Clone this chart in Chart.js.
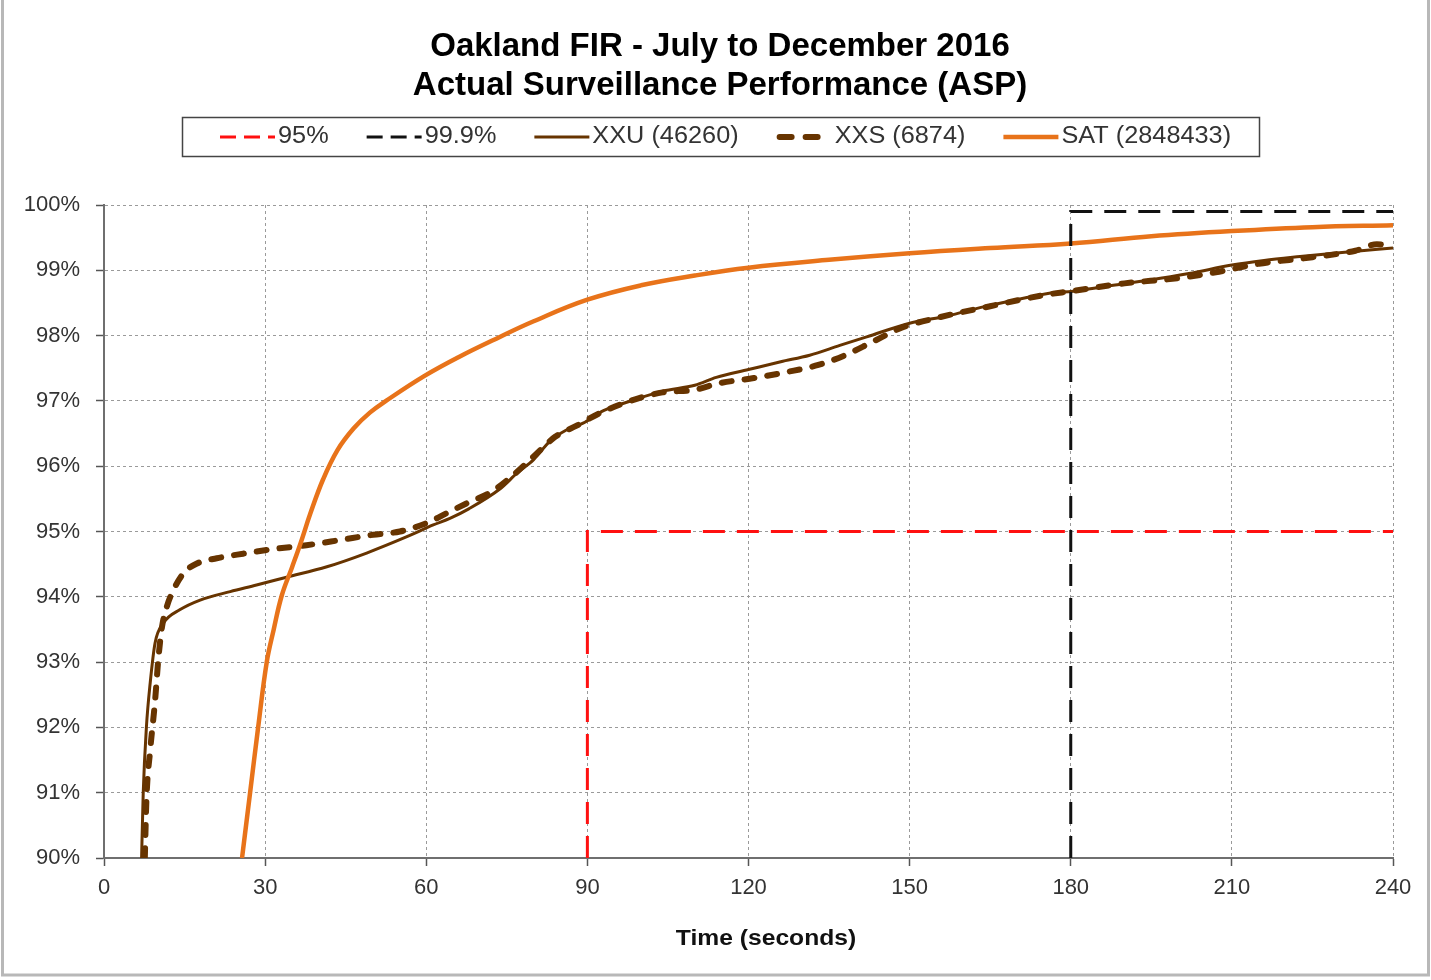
<!DOCTYPE html>
<html>
<head>
<meta charset="utf-8">
<script src="https://cdn.jsdelivr.net/npm/chart.js@4/dist/chart.umd.min.js"></script>
<style>
  html, body { margin: 0; padding: 0; background: #fff; }
  #wrap { width: 1431px; height: 980px; position: relative; }
</style>
</head>
<body>
<div id="wrap"><canvas id="c" width="1431" height="980"></canvas></div>
<script>
// ---- Data (time in seconds, percentage) ----
const titleLines = ['Oakland FIR - July to December 2016', 'Actual Surveillance Performance (ASP)'];
const xTitle = 'Time (seconds)';
const seriesLabels = ['95%', '99.9%', 'XXU (46260)', 'XXS (6874)', 'SAT (2848433)'];

const ref95 = [[90, 90], [90, 95], [240, 95]];
const ref999 = [[180, 90], [180, 99.9], [240, 99.9]];

const xxuT = [7.0, 7.3, 7.9, 8.6, 9.5, 11.0, 14.1, 17.9, 23.5, 28.4, 34, 41.5, 48.9, 56.4, 61.3, 64.4, 68, 73.7, 77, 80, 83, 86, 89.2, 93, 98.5, 104, 110, 114, 120, 126, 131.4, 137, 142, 150, 157, 163.7, 170, 176, 180.4, 187, 194.7, 202, 210, 216, 222.7, 230, 240];
const xxuV = [90.0, 90.99, 92.01, 92.68, 93.29, 93.59, 93.8, 93.95, 94.08, 94.18, 94.3, 94.46, 94.67, 94.92, 95.1, 95.2, 95.35, 95.65, 95.9, 96.1, 96.38, 96.55, 96.66, 96.85, 97.01, 97.15, 97.24, 97.36, 97.48, 97.6, 97.7, 97.85, 97.98, 98.19, 98.3, 98.44, 98.55, 98.65, 98.68, 98.76, 98.85, 98.95, 99.08, 99.15, 99.21, 99.27, 99.34];

const xxsT = [7.6, 7.9, 8.6, 9.5, 10.1, 10.8, 11.7, 12.9, 14.8, 17.3, 21, 25.9, 31.5, 37.7, 44, 50.1, 55.1, 60.1, 63.8, 68, 72, 76, 80, 84, 88, 92, 98, 104, 110, 114.5, 121, 127, 133, 138, 143, 148.5, 155, 165, 175, 180, 190, 200, 207, 215, 225, 233, 237, 240];
const xxsV = [90.0, 90.9, 91.65, 92.4, 93.03, 93.54, 93.85, 94.1, 94.36, 94.51, 94.59, 94.66, 94.73, 94.79, 94.87, 94.95, 95.0, 95.13, 95.28, 95.45, 95.6, 95.85, 96.15, 96.45, 96.62, 96.8, 97.0, 97.13, 97.17, 97.27, 97.35, 97.44, 97.55, 97.7, 97.9, 98.12, 98.27, 98.45, 98.62, 98.68, 98.8, 98.88, 98.97, 99.1, 99.2, 99.3, 99.4, 99.36];

const satT = [25.7, 27.2, 28.7, 30.3, 31.6, 33.1, 35, 36.6, 38.4, 40.8, 43.5, 46.5, 49.5, 52.5, 59.6, 66, 73.7, 80, 90, 100, 110, 120, 135, 150, 165, 180, 195, 210, 225, 240];
const satV = [90, 91, 92, 93, 93.5, 94.02, 94.45, 94.82, 95.27, 95.8, 96.25, 96.58, 96.82, 97.0, 97.38, 97.67, 97.98, 98.22, 98.55, 98.77, 98.92, 99.04, 99.16, 99.26, 99.34, 99.41, 99.52, 99.6, 99.66, 99.69];

const xTicks = [0, 30, 60, 90, 120, 150, 180, 210, 240];
const yTicks = [90, 91, 92, 93, 94, 95, 96, 97, 98, 99, 100];

// ---- helpers ----
const pts = (t, v) => t.map((x, i) => ({ x: x, y: v[i] }));
const pairs = (a) => a.map(p => ({ x: p[0], y: p[1] }));

const FONT = '"Liberation Sans", Arial, sans-serif';
const BROWN = '#673400';
const ORANGE = '#E8731A';

function stretchedText(ctx, text, x, y, sx, align) {
  ctx.save();
  ctx.translate(x, y);
  ctx.scale(sx, 1);
  ctx.textAlign = align || 'left';
  ctx.fillText(text, 0, 0);
  ctx.restore();
  return ctx.measureText(text).width * sx;
}

// Title, bordered legend (from the datasets), axis title and page frame
const decor = {
  id: 'decor',
  afterDraw(chart) {
    const ctx = chart.ctx;
    ctx.save();
    // frame of the page
    ctx.strokeStyle = '#b8b8b8';
    ctx.lineWidth = 3;
    ctx.strokeRect(2.5, -5, 1426, 980);
    // title
    ctx.font = 'bold 33px ' + FONT;
    ctx.fillStyle = '#000';
    ctx.textBaseline = 'middle';
    ctx.textAlign = 'center';
    titleLines.forEach((line, i) => ctx.fillText(line, 720, 46.5 + i * 39));
    // legend box
    ctx.strokeStyle = '#444';
    ctx.lineWidth = 1.5;
    ctx.strokeRect(182.5, 117.5, 1077, 39);
    ctx.font = '23px ' + FONT;
    ctx.fillStyle = '#333';
    const cy = 137;
    let x = 220;
    const sw = 55, gap = 3, spacing = 38, sx = 1.1;
    chart.data.datasets.forEach((ds) => {
      ctx.save();
      ctx.strokeStyle = ds.borderColor;
      ctx.lineWidth = ds.borderWidth;
      ctx.setLineDash(ds.legendDash || []);
      ctx.lineCap = ds.borderCapStyle || 'butt';
      ctx.beginPath();
      const inset = ds.borderCapStyle === 'round' ? ds.borderWidth / 2 : 0;
      ctx.moveTo(x + inset, cy);
      ctx.lineTo(x + sw - inset, cy);
      ctx.stroke();
      ctx.restore();
      const tx = x + sw + gap;
      const w = stretchedText(ctx, ds.label, tx, cy, sx, 'left');
      x = tx + w + spacing;
    });
    // x axis title
    ctx.font = 'bold 22px ' + FONT;
    ctx.fillStyle = '#111';
    stretchedText(ctx, xTitle, 766, 939, 1.12, 'center');
    ctx.restore();
  }
};

const ctx = document.getElementById('c').getContext('2d');
new Chart(ctx, {
  type: 'line',
  data: {
    datasets: [
      { label: seriesLabels[0], data: pairs(ref95), borderColor: '#FF1010', borderWidth: 3,
        borderDash: [22, 12], legendDash: [16, 8], tension: 0, pointRadius: 0, order: 0 },
      { label: seriesLabels[1], data: pairs(ref999), borderColor: '#111', borderWidth: 3,
        borderDash: [22, 12], legendDash: [16, 8], tension: 0, pointRadius: 0, order: 1 },
      { label: seriesLabels[2], data: pts(xxuT, xxuV), borderColor: BROWN, borderWidth: 3,
        cubicInterpolationMode: 'monotone', pointRadius: 0, order: 4 },
      { label: seriesLabels[3], data: pts(xxsT, xxsV), borderColor: BROWN, borderWidth: 6,
        borderDash: [10, 13], legendDash: [12, 14], borderCapStyle: 'round',
        cubicInterpolationMode: 'monotone', pointRadius: 0, order: 3 },
      { label: seriesLabels[4], data: pts(satT, satV), borderColor: ORANGE, borderWidth: 4.5,
        tension: 0.4, pointRadius: 0, order: 2 }
    ]
  },
  options: {
    responsive: false,
    animation: false,
    devicePixelRatio: 1,
    layout: { padding: { left: 0, right: 38, top: 205, bottom: 0 } },
    plugins: {
      legend: { display: false },
      tooltip: { enabled: false },
      title: { display: false }
    },
    scales: {
      x: {
        type: 'linear',
        min: 0, max: 240,
        afterFit(scale) { scale.height = 122; },
        afterBuildTicks(scale) { scale.ticks = xTicks.map(v => ({ value: v })); },
        ticks: { color: '#333', font: { family: FONT, size: 22 }, padding: 9, maxRotation: 0 },
        grid: { color: '#9a9a9a', lineWidth: 1, tickLength: 8, tickColor: '#555', tickWidth: 1.5 },
        border: { display: true, color: '#6f6f6f', width: 2, dash: [3, 3] },
        title: { display: false }
      },
      y: {
        type: 'linear',
        min: 90, max: 100,
        afterFit(scale) { scale.width = 104; },
        afterBuildTicks(scale) { scale.ticks = yTicks.map(v => ({ value: v })); },
        ticks: { color: '#333', font: { family: FONT, size: 22 }, padding: 16,
          callback: (v) => v + '%' },
        grid: { color: '#9a9a9a', lineWidth: 1, tickLength: 8, tickColor: '#555', tickWidth: 1.5 },
        border: { display: true, color: '#6f6f6f', width: 2, dash: [3, 3] }
      }
    }
  },
  plugins: [decor]
});
</script>
</body>
</html>
